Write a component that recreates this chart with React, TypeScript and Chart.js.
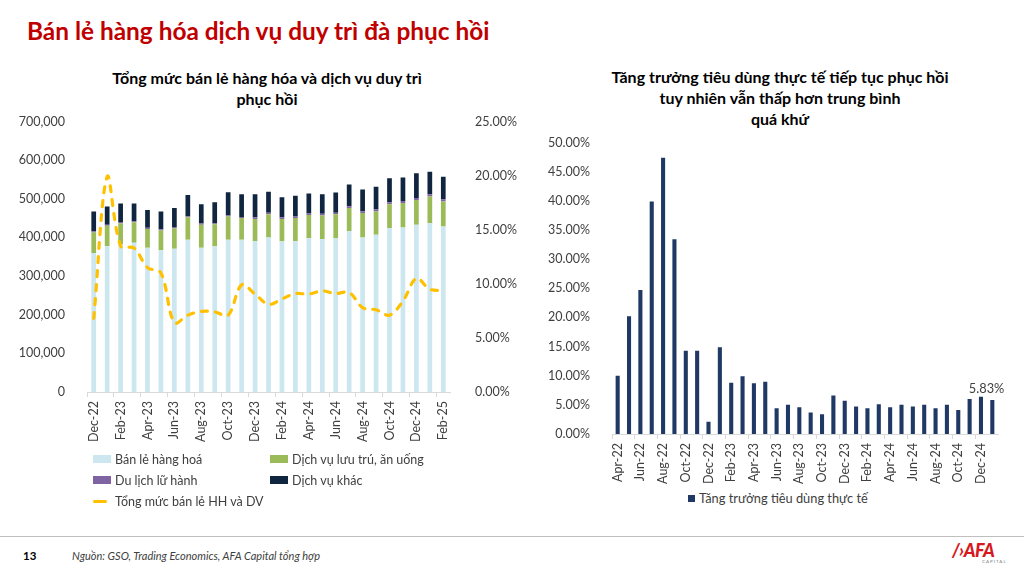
import { useEffect, useRef } from "react";
import { Chart, registerables } from "chart.js";

Chart.register(...registerables);

// ---- left chart: monthly retail sales (VND bn) + YoY growth (%)
const months = [
  "Dec-22", "Jan-23", "Feb-23", "Mar-23", "Apr-23", "May-23", "Jun-23", "Jul-23", "Aug-23",
  "Sep-23", "Oct-23", "Nov-23", "Dec-23", "Jan-24", "Feb-24", "Mar-24", "Apr-24", "May-24",
  "Jun-24", "Jul-24", "Aug-24", "Sep-24", "Oct-24", "Nov-24", "Dec-24", "Jan-25", "Feb-25",
];
const retailGoods = [
  360000, 377000, 383000, 386000, 373000, 367000, 371000, 394000, 373000, 377000, 394000, 394000,
  390000, 400000, 390000, 390000, 398000, 396000, 398000, 416000, 400000, 407000, 424000, 426000,
  433000, 437000, 428000,
];
const lodgingFood = [
  53000, 53000, 54000, 53000, 49000, 51000, 53000, 58000, 60000, 57000, 60000, 56000,
  58000, 60000, 58000, 60000, 60000, 61000, 62000, 60000, 63000, 60000, 62000, 63000,
  64000, 69000, 65000,
];
const travel = [
  3000, 3000, 3000, 3000, 3000, 3000, 3000, 3000, 3000, 3000, 3000, 3000,
  4000, 4000, 4000, 4000, 4000, 4000, 4000, 5000, 5000, 5000, 5000, 5000,
  5000, 6000, 6000,
];
const otherServices = [
  51000, 47000, 48000, 46000, 46000, 46000, 49000, 55000, 50000, 54000, 60000, 59000,
  60000, 54000, 52000, 54000, 52000, 51000, 52000, 56000, 56000, 59000, 62000, 61000,
  64000, 58000, 58000,
];
const totalGrowth = [
  6.8, 19.9, 13.5, 13.3, 11.5, 11.0, 6.4, 7.1, 7.45, 7.4, 7.1, 9.9, 9.05, 8.1, 8.6, 9.1, 9.05,
  9.35, 9.1, 9.2, 7.8, 7.6, 7.1, 8.4, 10.5, 9.5, 9.4,
];
const leftTicks = [0, 100000, 200000, 300000, 400000, 500000, 600000, 700000];
const rightTicks = [0, 5, 10, 15, 20, 25];

// ---- right chart: real consumption growth (%)
const growthMonths = [
  "Apr-22", "May-22", "Jun-22", "Jul-22", "Aug-22", "Sep-22", "Oct-22", "Nov-22", "Dec-22",
  "Jan-23", "Feb-23", "Mar-23", "Apr-23", "May-23", "Jun-23", "Jul-23", "Aug-23", "Sep-23",
  "Oct-23", "Nov-23", "Dec-23", "Jan-24", "Feb-24", "Mar-24", "Apr-24", "May-24", "Jun-24",
  "Jul-24", "Aug-24", "Sep-24", "Oct-24", "Nov-24", "Dec-24", "Jan-25",
];
const realGrowth = [
  10.0, 20.2, 24.7, 39.9, 47.4, 33.4, 14.3, 14.3, 2.1, 14.9, 8.8, 9.9, 8.7, 8.95, 4.4, 5.0, 4.6,
  3.7, 3.4, 6.6, 5.7, 4.7, 4.4, 5.1, 4.6, 5.0, 4.7, 5.0, 4.4, 5.0, 4.1, 6.0, 6.4, 5.83,
];
const growthTicks = [0, 5, 10, 15, 20, 25, 30, 35, 40, 45, 50];

const leftNames = ["Bán lẻ hàng hoá", "Dịch vụ lưu trú, ăn uống", "Du lịch lữ hành", "Dịch vụ khác"];
const lineName = "Tổng mức bán lẻ HH và DV";
const rightName = "Tăng trưởng tiêu dùng thực tế";

const FONT = "Lato";
const TXT = "#404040";
const colors = ["#CCE7F0", "#9BBB59", "#8064A2", "#10253F"];
const YELLOW = "#FFC000";
const NAVY = "#1F3864";
const TICK = 12.5;

const tickEveryOther = (color: string) => (ctx: any) => (ctx.index % 2 === 0 ? color : "rgba(0,0,0,0)");

function SalesChart() {
  const ref = useRef<HTMLCanvasElement>(null);

  useEffect(() => {
    const ctx = ref.current?.getContext("2d");
    if (!ctx) return;
    const series = [retailGoods, lodgingFood, travel, otherServices];
    const chart = new Chart(ctx, {
      type: "bar",
      data: {
        labels: months,
        datasets: [
          {
            type: "line",
            label: lineName,
            data: totalGrowth,
            yAxisID: "y1",
            borderColor: YELLOW,
            borderWidth: 3.2,
            borderDash: [6, 8],
            borderCapStyle: "round",
            tension: 0.35,
            pointRadius: 0,
            order: 0,
          } as any,
          ...series.map((d, i) => ({
            label: leftNames[i],
            data: d,
            backgroundColor: colors[i],
            barPercentage: 0.35,
            categoryPercentage: 1,
            yAxisID: "y",
            order: 1,
          })),
        ],
      },
      options: {
        animation: false,
        responsive: false,
        layout: { padding: { top: 10, left: 0, right: 0, bottom: 0 } },
        plugins: { legend: { display: false }, tooltip: { enabled: false } },
        scales: {
          x: {
            stacked: true,
            offset: true,
            grid: {
              offset: true,
              drawOnChartArea: false,
              drawTicks: true,
              tickLength: 5,
              color: tickEveryOther("#D9D9D9"),
            },
            border: { display: true, color: "#D9D9D9" },
            ticks: {
              autoSkip: false,
              minRotation: 90,
              maxRotation: 90,
              padding: 4,
              color: TXT,
              font: { family: FONT, size: TICK },
              callback: (_v: any, i: number) => (i % 2 === 0 ? months[i] : ""),
            },
            afterFit: (s: any) => {
              s.height = 58;
            },
          },
          y: {
            stacked: true,
            min: 0,
            max: 700000,
            position: "left",
            grid: { display: false },
            border: { display: false },
            afterBuildTicks: (s: any) => {
              s.ticks = leftTicks.map((v) => ({ value: v }));
            },
            ticks: {
              padding: 14,
              color: TXT,
              font: { family: FONT, size: TICK },
              callback: (v: any) => Number(v).toLocaleString("en-US"),
            },
            afterFit: (s: any) => {
              s.width = 77;
            },
          },
          y1: {
            min: 0,
            max: 25,
            position: "right",
            grid: { display: false },
            border: { display: false },
            afterBuildTicks: (s: any) => {
              s.ticks = rightTicks.map((v) => ({ value: v }));
            },
            ticks: {
              padding: 17,
              color: TXT,
              font: { family: FONT, size: TICK },
              callback: (v: any) => Number(v).toFixed(2) + "%",
            },
            afterFit: (s: any) => {
              s.width = 90;
            },
          },
        },
      },
    });
    return () => chart.destroy();
  }, []);

  return <canvas ref={ref} width={530} height={353} style={{ position: "absolute", left: 10, top: 97, width: 530, height: 353 }} />;
}

function GrowthChart() {
  const ref = useRef<HTMLCanvasElement>(null);

  useEffect(() => {
    const ctx = ref.current?.getContext("2d");
    if (!ctx) return;
    const lastLabel = {
      id: "lastLabel",
      afterDatasetsDraw(c: any) {
        const meta = c.getDatasetMeta(0);
        const i = realGrowth.length - 1;
        const el = meta.data[i];
        const g = c.ctx;
        g.save();
        g.font = `12.8px ${FONT}`;
        g.fillStyle = TXT;
        g.textAlign = "right";
        g.textBaseline = "bottom";
        g.fillText(realGrowth[i].toFixed(2) + "%", el.x + 12, el.y - 5);
        g.restore();
      },
    };
    const chart = new Chart(ctx, {
      type: "bar",
      data: {
        labels: growthMonths,
        datasets: [
          {
            label: rightName,
            data: realGrowth,
            backgroundColor: NAVY,
            barPercentage: 0.36,
            categoryPercentage: 1,
          },
        ],
      },
      options: {
        animation: false,
        responsive: false,
        layout: { padding: { top: 10, right: 17, left: 0, bottom: 0 } },
        plugins: { legend: { display: false }, tooltip: { enabled: false } },
        scales: {
          x: {
            offset: true,
            grid: {
              offset: true,
              drawOnChartArea: false,
              drawTicks: true,
              tickLength: 5,
              color: tickEveryOther("#D9D9D9"),
            },
            border: { display: true, color: "#D9D9D9" },
            ticks: {
              autoSkip: false,
              minRotation: 90,
              maxRotation: 90,
              padding: 4,
              color: TXT,
              font: { family: FONT, size: TICK },
              callback: (_v: any, i: number) => (i % 2 === 0 ? growthMonths[i] : ""),
            },
            afterFit: (s: any) => {
              s.height = 55;
            },
          },
          y: {
            min: 0,
            max: 50,
            grid: { display: false },
            border: { display: false },
            afterBuildTicks: (s: any) => {
              s.ticks = growthTicks.map((v) => ({ value: v }));
            },
            ticks: {
              padding: 14,
              color: TXT,
              font: { family: FONT, size: TICK },
              callback: (v: any) => Number(v).toFixed(2) + "%",
            },
            afterFit: (s: any) => {
              s.width = 67;
            },
          },
        },
      },
      plugins: [lastLabel],
    });
    return () => chart.destroy();
  }, []);

  return <canvas ref={ref} width={470} height={368} style={{ position: "absolute", left: 545, top: 121, width: 470, height: 368 }} />;
}

function LegendItem({ name, color, x, y, line }: { name: string; color: string; x: number; y: number; line?: boolean }) {
  return (
    <div style={{ position: "absolute", left: x, top: y - 10, height: 20, display: "flex", alignItems: "center" }}>
      <span
        style={{
          display: "inline-block",
          width: line ? 14 : 18,
          height: line ? 3 : 8,
          background: color,
          marginRight: line ? 8 : 4,
          borderRadius: line ? 2 : 0,
        }}
      />
      <span style={{ fontSize: 12.5, color: TXT, whiteSpace: "nowrap" }}>{name}</span>
    </div>
  );
}

export default function App() {
  return (
    <div
      style={{
        position: "absolute",
        left: 0,
        top: 0,
        width: 1024,
        height: 575,
        background: "#fff",
        fontFamily: FONT,
        overflow: "hidden",
      }}
    >
      <div style={{ position: "absolute", left: 27, top: 16, fontSize: 24.4, fontWeight: 700, color: "#C00000", whiteSpace: "nowrap" }}>
        Bán lẻ hàng hóa dịch vụ duy trì đà phục hồi
      </div>

      <div style={{ position: "absolute", left: 67, width: 400, top: 67, textAlign: "center", fontSize: 16, fontWeight: 700, lineHeight: "21px", color: "#000" }}>
        Tổng mức bán lẻ hàng hóa và dịch vụ duy trì
        <br />
        phục hồi
      </div>

      <div style={{ position: "absolute", left: 580, width: 400, top: 66, textAlign: "center", fontSize: 16, fontWeight: 700, lineHeight: "21px", color: "#000" }}>
        Tăng trưởng tiêu dùng thực tế tiếp tục phục hồi
        <br />
        tuy nhiên vẫn thấp hơn trung bình
        <br />
        quá khứ
      </div>

      <SalesChart />
      <GrowthChart />

      <LegendItem name={leftNames[0]} color={colors[0]} x={93} y={459} />
      <LegendItem name={leftNames[1]} color={colors[1]} x={270} y={459} />
      <LegendItem name={leftNames[2]} color={colors[2]} x={93} y={480} />
      <LegendItem name={leftNames[3]} color={colors[3]} x={270} y={480} />
      <LegendItem name={lineName} color={YELLOW} x={93} y={501} line />

      <div style={{ position: "absolute", left: 688, top: 489, height: 18, display: "flex", alignItems: "center" }}>
        <span style={{ display: "inline-block", width: 7, height: 7, background: NAVY, marginRight: 4 }} />
        <span style={{ fontSize: 12.8, color: TXT, whiteSpace: "nowrap" }}>{rightName}</span>
      </div>

      <div style={{ position: "absolute", left: 0, top: 536, width: 1024, height: 1, background: "#BFBFBF" }} />
      <div style={{ position: "absolute", left: 23, top: 549, fontSize: 11.5, fontWeight: 700, color: "#000" }}>13</div>
      <div style={{ position: "absolute", left: 72, top: 549, fontSize: 11, fontStyle: "italic", color: "#404040", whiteSpace: "nowrap" }}>
        Nguồn: GSO, Trading Economics, AFA Capital tổng hợp
      </div>

      <div style={{ position: "absolute", left: 952, top: 541, width: 62, height: 24 }}>
        <div style={{ position: "absolute", left: 0, top: 0, fontSize: 18, fontWeight: 900, fontStyle: "italic", color: "#D7191F", letterSpacing: -0.5, lineHeight: "18px" }}>
          /›AFA
        </div>
        <div style={{ position: "absolute", left: 30, top: 18, fontSize: 4.5, letterSpacing: 1, color: "#808080" }}>CAPITAL</div>
      </div>
    </div>
  );
}
